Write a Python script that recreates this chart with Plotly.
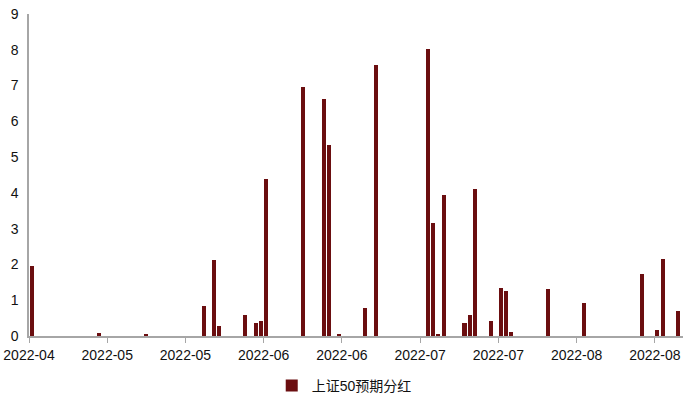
import plotly.graph_objects as go

# expected dividend per date (上证50 index points)
dates = [
    "2022-04-22", "2022-05-05", "2022-05-14", "2022-05-25", "2022-05-27",
    "2022-05-28", "2022-06-02", "2022-06-04", "2022-06-05", "2022-06-06",
    "2022-06-13", "2022-06-17", "2022-06-18", "2022-06-20", "2022-06-25",
    "2022-06-27", "2022-07-07", "2022-07-08", "2022-07-09", "2022-07-10",
    "2022-07-14", "2022-07-15", "2022-07-16", "2022-07-19", "2022-07-21",
    "2022-07-22", "2022-07-23", "2022-07-30", "2022-08-06", "2022-08-17",
    "2022-08-20", "2022-08-21", "2022-08-24",
]
dividends = [
    1.95, 0.08, 0.04, 0.83, 2.12,
    0.27, 0.60, 0.35, 0.43, 4.40,
    6.95, 6.62, 5.35, 0.07, 0.77,
    7.58, 8.03, 3.16, 0.07, 3.93,
    0.36, 0.60, 4.12, 0.42, 1.34,
    1.27, 0.11, 1.30, 0.92, 1.72,
    0.17, 2.14, 0.71,
]
series_name = "上证50预期分红"

DAY = 86400000  # ms

fig = go.Figure()
fig.add_trace(go.Bar(
    x=dates, y=dividends, name=series_name,
    width=0.78 * DAY,
    marker=dict(color="#6B0E10", line=dict(width=0)),
))

fig.update_layout(
    width=700, height=403,
    margin=dict(l=29, r=17, t=14, b=67, autoexpand=False),
    paper_bgcolor="white", plot_bgcolor="white",
    font=dict(family="Liberation Sans, Arial, Noto Sans CJK SC", size=14, color="#111111"),
    showlegend=True,
    legend=dict(orientation="h", x=0.482, xanchor="center", y=-0.155, yanchor="middle",
                font=dict(size=14), itemwidth=30),
    bargap=0,
)
fig.update_xaxes(
    type="date", automargin=False,
    range=["2022-04-21 12:00", "2022-08-24 21:36"],
    tick0="2022-04-21 12:00", dtick=15 * DAY,
    tickformat="%Y-%m", ticklabeloverflow="allow",
    showline=True, linecolor="#A6A6A6", linewidth=1.5,
    ticks="outside", ticklen=5, tickcolor="#A6A6A6",
    showgrid=False, zeroline=False,
)
fig.update_yaxes(
    range=[0, 9], dtick=1, automargin=False, ticklabeloverflow="allow",
    showline=True, linecolor="#A6A6A6", linewidth=1.5,
    showgrid=False, zeroline=False,
    ticks="", ticklabelstandoff=6,
)

# drop the default 8px body margin so the figure fills the window exactly
fig.write_html("out.html", config={"displayModeBar": False},
               post_script="document.body.style.margin = '0';")
